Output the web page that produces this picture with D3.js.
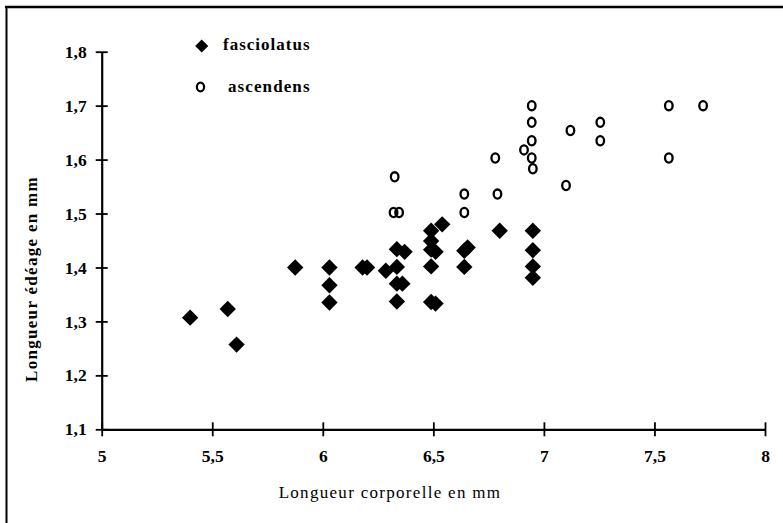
<!DOCTYPE html>
<html>
<head>
<meta charset="utf-8">
<script src="https://cdn.jsdelivr.net/npm/d3@7"></script>
<style>
  body { margin: 0; background: #fff; }
  svg text { font-family: "Liberation Serif", "Times New Roman", serif; fill: #000; }
</style>
</head>
<body>
<svg id="chart" width="783" height="523"></svg>
<script>
// fasciolatus (filled diamonds)
const fascX = [5.40, 5.57, 5.61, 5.875, 6.03, 6.03, 6.03, 6.18, 6.20, 6.285,
  6.335, 6.37, 6.335, 6.335, 6.36, 6.335, 6.49, 6.54, 6.49, 6.49,
  6.51, 6.49, 6.49, 6.51, 6.64, 6.64, 6.655, 6.80, 6.95, 6.95, 6.95, 6.95];
const fascY = [1.307, 1.323, 1.257, 1.40, 1.40, 1.367, 1.335, 1.40, 1.40, 1.394,
  1.434, 1.429, 1.401, 1.37, 1.37, 1.337, 1.468, 1.48, 1.449, 1.433,
  1.429, 1.402, 1.336, 1.333, 1.401, 1.431, 1.437, 1.468, 1.468, 1.432, 1.402, 1.381];

// ascendens (open circles)
const ascX = [6.325, 6.32, 6.345, 6.64, 6.64, 6.78, 6.79, 6.91, 6.945, 6.945,
  6.945, 6.945, 6.95, 7.10, 7.12, 7.255, 7.255, 7.565, 7.565, 7.72];
const ascY = [1.568, 1.502, 1.502, 1.536, 1.502, 1.603, 1.536, 1.618, 1.70, 1.669,
  1.635, 1.603, 1.583, 1.552, 1.654, 1.669, 1.635, 1.70, 1.603, 1.70];

const xTicks = [5, 5.5, 6, 6.5, 7, 7.5, 8];
const yTicks = [1.1, 1.2, 1.3, 1.4, 1.5, 1.6, 1.7, 1.8];
const seriesNames = ['fasciolatus', 'ascendens'];

const fmt = d => String(d).replace('.', ',');

const svg = d3.select('#chart');

const x = d3.scaleLinear().domain([5, 8]).range([101.7, 765]);
const y = d3.scaleLinear().domain([1.1, 1.8]).range([429.3, 51.7]);

// frame: top and left edges only
svg.append('line').attr('x1', 5).attr('x2', 783).attr('y1', 7).attr('y2', 7)
  .attr('stroke', '#000').attr('stroke-width', 2.5);
svg.append('line').attr('x1', 6.5).attr('x2', 6.5).attr('y1', 6).attr('y2', 523)
  .attr('stroke', '#000').attr('stroke-width', 2);

// axes
const xAxis = d3.axisBottom(x).tickValues(xTicks).tickFormat(fmt)
  .tickSizeInner(6).tickSizeOuter(0).tickPadding(14);
const gx = svg.append('g').attr('transform', `translate(0,${y(1.1)})`).call(xAxis);

const yAxis = d3.axisLeft(y).tickValues(yTicks).tickFormat(fmt)
  .tickSizeInner(6).tickSizeOuter(0).tickPadding(9);
const gy = svg.append('g').attr('transform', `translate(${x(5)},0)`).call(yAxis);

[gx, gy].forEach(g => {
  g.select('.domain').attr('stroke', '#000').attr('stroke-width', 2.2);
  g.selectAll('.tick line').attr('stroke', '#000').attr('stroke-width', 1.8);
  g.selectAll('.tick text')
    .style('font-family', '"Liberation Serif", serif')
    .style('font-weight', 'bold').style('font-size', '17.5px').attr('fill', '#000');
});
// ticks cross the axis
gx.selectAll('.tick line').attr('y1', -7).attr('y2', 7);
gy.selectAll('.tick line').attr('x1', -6).attr('x2', 6);

// axis titles
svg.append('text')
  .attr('x', 390).attr('y', 498)
  .attr('text-anchor', 'middle')
  .style('font-size', '17px').style('letter-spacing', '1.3px')
  .text('Longueur corporelle en mm');

svg.append('text')
  .attr('transform', `translate(37,279) rotate(-90)`)
  .attr('text-anchor', 'middle')
  .style('font-size', '17px').style('font-weight', 'bold').style('letter-spacing', '1.3px')
  .text('Longueur édéage en mm');

// points: square turned 45 degrees gives the even diamond of the original
const diamond = d3.symbol().type(d3.symbolSquare).size(134);

const fasc = fascX.map((d, i) => ({ x: d, y: fascY[i] }));
const asc = ascX.map((d, i) => ({ x: d, y: ascY[i] }));

svg.append('g')
  .selectAll('path')
  .data(fasc)
  .enter().append('path')
  .attr('d', diamond)
  .attr('transform', d => `translate(${x(d.x)},${y(d.y)}) rotate(45)`)
  .attr('fill', '#000');

svg.append('g')
  .selectAll('ellipse')
  .data(asc)
  .enter().append('ellipse')
  .attr('cx', d => x(d.x))
  .attr('cy', d => y(d.y))
  .attr('rx', 3.8)
  .attr('ry', 4.6)
  .attr('fill', 'none')
  .attr('stroke', '#000')
  .attr('stroke-width', 2.3);

// legend
const legend = svg.append('g');
legend.append('path')
  .attr('d', diamond)
  .attr('transform', 'translate(201.7,46) rotate(45) scale(0.8)')
  .attr('fill', '#000');
legend.append('text')
  .attr('x', 223).attr('y', 50)
  .style('font-size', '17px').style('font-weight', 'bold').style('letter-spacing', '1px')
  .text(seriesNames[0]);
legend.append('ellipse')
  .attr('cx', 200.5).attr('cy', 87).attr('rx', 3.6).attr('ry', 4.3)
  .attr('fill', 'none').attr('stroke', '#000').attr('stroke-width', 2.2);
legend.append('text')
  .attr('x', 228).attr('y', 92)
  .style('font-size', '17px').style('font-weight', 'bold').style('letter-spacing', '1.1px')
  .text(seriesNames[1]);
</script>
</body>
</html>
